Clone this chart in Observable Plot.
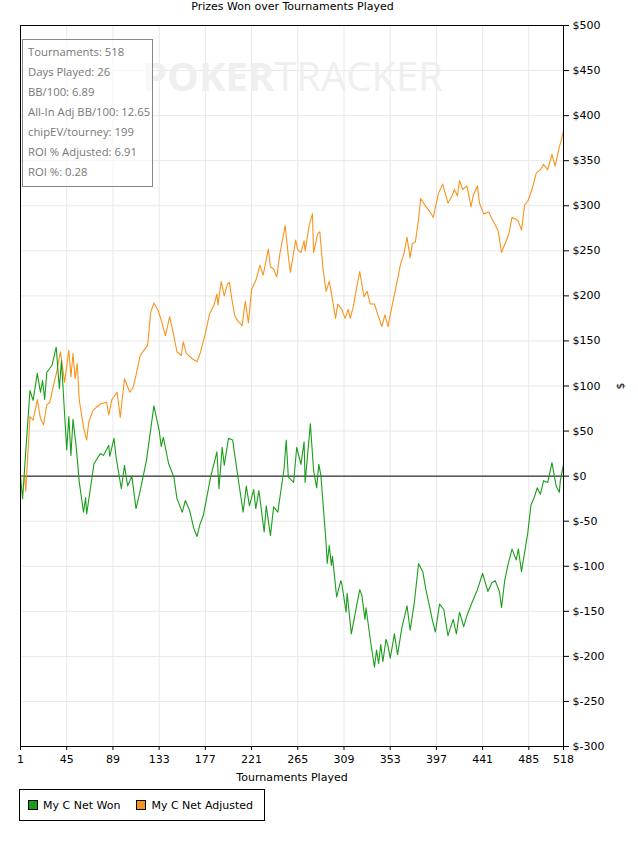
<!DOCTYPE html>
<html><head><meta charset="utf-8">
<script src="https://cdn.jsdelivr.net/npm/d3@7"></script>
<script src="https://cdn.jsdelivr.net/npm/@observablehq/plot@0.6"></script>
<style>
body{margin:0;background:#fff;font-family:"DejaVu Sans",sans-serif;}
#wrap{position:relative;width:638px;height:842px;}
.abs{position:absolute;}
</style></head><body>
<div id="wrap"></div>
<script>
const netWonT=[1,3,5,10,13,17,20,22,24,26,31,35,38,40,45,47,49,51,54,57,61,63,64,71,77,80,85,86,90,92,97,100,103,107,111,115,121,128,133,135,137,142,147,150,155,158,162,166,169,172,175,182,188,190,193,195,199,203,208,213,216,219,223,225,228,233,235,239,242,246,252,254,256,261,264,268,271,272,277,280,283,285,287,292,293,295,297,298,302,306,307,311,312,316,321,324,326,329,330,334,338,340,342,344,346,349,351,353,355,357,360,364,366,369,372,376,380,384,387,390,393,396,400,404,408,413,416,419,423,426,431,436,441,446,450,453,457,459,462,465,469,473,475,478,484,487,490,493,496,499,503,507,511,514,515,518];
const netWonV=[0,-25,10,95,84,114,93,106,85,115,123,143,97,128,29,66,23,63,33,-7,-40,-24,-42,14,25,23,34,22,42,21,-14,12,-11,0,-36,-16,18,78,51,33,43,14,-1,-25,-40,-27,-38,-58,-67,-53,-44,-1,27,-14,32,12,42,40,-1,-40,-11,-33,-15,-36,-16,-62,-33,-66,-34,-40,9,40,-1,-7,32,13,38,-7,58,7,-13,13,1,-75,-97,-77,-99,-89,-134,-116,-120,-151,-130,-175,-144,-126,-132,-159,-146,-181,-212,-193,-208,-187,-206,-181,-189,-202,-189,-175,-198,-169,-159,-144,-171,-140,-97,-106,-126,-142,-159,-173,-142,-148,-177,-159,-175,-151,-167,-155,-140,-126,-108,-128,-118,-116,-128,-146,-116,-99,-81,-93,-81,-106,-63,-32,-24,-13,-20,-5,-7,15,-11,-18,-5,13];
const adjT=[1,5,6,10,13,17,20,23,26,29,33,35,39,43,47,49,51,53,55,57,61,64,66,70,77,83,85,88,93,96,100,105,108,111,115,122,125,128,132,135,139,143,146,150,154,156,159,165,169,172,177,181,185,188,189,192,195,198,200,202,205,208,212,215,218,221,225,229,232,237,239,242,245,248,253,256,258,263,265,268,271,272,276,279,280,284,286,289,292,295,297,301,303,307,310,313,315,318,321,324,328,331,334,338,341,345,348,351,353,358,363,366,369,372,374,377,380,382,387,391,394,399,403,408,412,414,417,419,422,426,430,432,436,438,442,447,450,453,456,459,461,466,469,473,475,478,481,484,488,492,496,499,503,507,510,514,516,518];
const adjV=[0,0,-17,66,62,85,64,57,79,82,104,113,138,104,140,110,136,108,125,84,54,40,60,73,80,82,68,85,93,65,108,93,98,112,134,145,182,192,184,173,156,177,161,138,134,149,136,130,127,136,158,180,189,202,190,216,200,213,215,198,178,172,167,194,170,207,217,234,223,252,232,230,221,247,278,244,226,262,251,248,261,250,279,291,248,269,271,230,205,216,203,175,191,185,175,185,175,189,209,227,199,205,191,191,180,166,179,166,179,207,236,246,265,242,258,260,285,308,299,293,287,314,324,303,311,318,311,328,318,322,299,311,322,303,291,293,285,279,271,248,254,269,287,285,283,273,301,305,318,336,340,346,340,357,344,365,373,383];
const xTicks=[1,45,89,133,177,221,265,309,353,397,441,485,518];
const yTicks=d3.range(-300,501,50);
const statLines=["Tournaments: 518","Days Played: 26","BB/100: 6.89","All-In Adj BB/100: 12.65","chipEV/tourney: 199","ROI % Adjusted: 6.91","ROI %: 0.28"];
const seriesNames=["My C Net Won","My C Net Adjusted"];
const colors=["#1a9e1a","#f7941d"];

const won=netWonT.map((t,i)=>({t,v:netWonV[i]}));
const adj=adjT.map((t,i)=>({t,v:adjV[i]}));
const fmt=v=>v<0?"$-"+(-v):"$"+v;

const chart=Plot.plot({
  width:638,height:790,
  marginLeft:20,marginRight:75,marginTop:25,marginBottom:44,
  style:{fontFamily:"DejaVu Sans, sans-serif",fontSize:"11px",color:"#000"},
  x:{domain:[1,518]},
  y:{domain:[-300,500]},
  marks:[
    Plot.gridX(xTicks,{stroke:"#e8e8e8",strokeOpacity:1}),
    Plot.gridY(yTicks,{stroke:"#e8e8e8",strokeOpacity:1}),
    Plot.ruleY([0],{stroke:"#000",strokeWidth:1}),
    Plot.line(adj,{x:"t",y:"v",stroke:colors[1],strokeWidth:1.1}),
    Plot.line(won,{x:"t",y:"v",stroke:colors[0],strokeWidth:1.1}),
    Plot.frame({stroke:"#000"}),
    Plot.axisX({ticks:xTicks,tickFormat:d=>d,label:"Tournaments Played",labelAnchor:"center",labelOffset:34,labelArrow:"none",tickSize:4}),
    Plot.axisY({anchor:"right",ticks:yTicks,tickFormat:fmt,label:"$",labelAnchor:"center",labelOffset:60,labelArrow:"none",tickSize:5})
  ]
});
const wrap=document.getElementById("wrap");
chart.style.position="absolute";chart.style.left="0";chart.style.top="0";
wrap.appendChild(chart);

const title=document.createElement("div");
title.className="abs";title.textContent="Prizes Won over Tournaments Played";
Object.assign(title.style,{left:"0",width:"585px",top:"0",textAlign:"center",fontSize:"11px"});
wrap.appendChild(title);

const wm=document.createElement("div");
wm.className="abs";
wm.innerHTML='<b>POKER</b>TRACKER';
Object.assign(wm.style,{left:"142px",top:"48px",fontSize:"40px",fontFamily:"Open Sans, sans-serif",color:"#efefef",whiteSpace:"nowrap"});
wrap.appendChild(wm);

const box=document.createElement("div");
box.className="abs";
Object.assign(box.style,{left:"22px",top:"39px",width:"131px",height:"148px",border:"1px solid #888",background:"rgba(255,255,255,0.6)",fontFamily:"Open Sans, sans-serif",fontSize:"11.3px",color:"#777",boxSizing:"border-box",padding:"2px 0 0 5px",lineHeight:"20px",whiteSpace:"nowrap"});
box.innerHTML=statLines.map(s=>`<div>${s}</div>`).join("");
wrap.appendChild(box);

const leg=document.createElement("div");
leg.className="abs";
Object.assign(leg.style,{left:"19px",top:"789px",width:"246px",height:"32px",border:"1px solid #000",boxSizing:"border-box",fontSize:"11px",display:"flex",alignItems:"center",paddingLeft:"8px",whiteSpace:"nowrap"});
leg.innerHTML=seriesNames.map((n,i)=>`<span style="display:inline-block;width:8px;height:8px;background:${colors[i]};border:1px solid #000;margin-right:5px;flex:none"></span><span style="margin-right:16px">${n}</span>`).join("");
wrap.appendChild(leg);
</script></body></html>
